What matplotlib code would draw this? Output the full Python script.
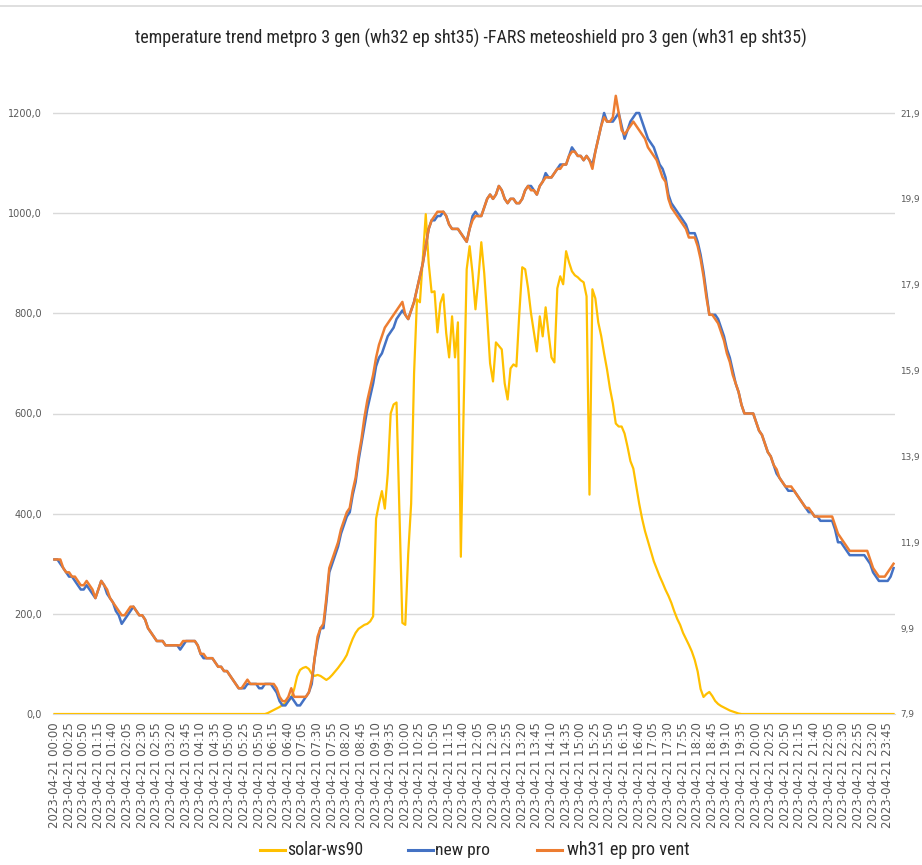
import matplotlib
matplotlib.use("Agg")
import matplotlib.pyplot as plt
from matplotlib.lines import Line2D
from matplotlib import font_manager

# ---------------- data ----------------
# 5-minute samples, 2023-04-21 00:00 .. 23:55
times = [f"2023-04-21 {h:02d}:{m:02d}" for h in range(24) for m in range(0, 60, 5)]

solar_ws90 = [
    0, 0, 0, 0, 0, 0, 0, 0, 0, 0, 0, 0,
    0, 0, 0, 0, 0, 0, 0, 0, 0, 0, 0, 0,
    0, 0, 0, 0, 0, 0, 0, 0, 0, 0, 0, 0,
    0, 0, 0, 0, 0, 0, 0, 0, 0, 0, 0, 0,
    0, 0, 0, 0, 0, 0, 0, 0, 0, 0, 0, 0,
    0, 0, 0, 0, 0, 0, 0, 0, 0, 0, 0, 0,
    0, 2, 5, 8, 11, 14, 18, 22, 26, 32, 50, 75,
    88, 92, 94, 90, 80, 76, 78, 76, 72, 68, 72, 78,
    85, 92, 100, 108, 118, 135, 150, 162, 170, 174, 178, 180,
    185, 195, 390, 420, 445, 410, 480, 600, 618, 622, 400, 182,
    178, 320, 420, 680, 828, 822, 910, 998, 900, 842, 844, 762,
    820, 838, 760, 712, 794, 712, 782, 314, 622, 888, 934, 880,
    808, 870, 942, 880, 794, 700, 664, 742, 735, 728, 660, 628,
    690, 698, 694, 800, 892, 888, 850, 800, 762, 724, 794, 754,
    812, 760, 712, 702, 850, 874, 858, 924, 902, 884, 876, 872,
    866, 862, 834, 438, 848, 830, 782, 755, 720, 688, 650, 620,
    580, 574, 574, 560, 534, 505, 490, 455, 420, 390, 365, 345,
    325, 305, 290, 275, 262, 248, 236, 222, 205, 190, 178, 162,
    150, 138, 125, 108, 85, 50, 34, 40, 44, 36, 26, 20,
    16, 13, 10, 7, 5, 3, 1, 0, 0, 0, 0, 0,
    0, 0, 0, 0, 0, 0, 0, 0, 0, 0, 0, 0,
    0, 0, 0, 0, 0, 0, 0, 0, 0, 0, 0, 0,
    0, 0, 0, 0, 0, 0, 0, 0, 0, 0, 0, 0,
    0, 0, 0, 0, 0, 0, 0, 0, 0, 0, 0, 0,
]

new_pro = [
    11.5, 11.5, 11.4, 11.3, 11.2, 11.1, 11.1, 11.0, 10.9, 10.8, 10.8, 10.9,
    10.8, 10.7, 10.6, 10.8, 11.0, 10.9, 10.7, 10.6, 10.5, 10.3, 10.2, 10.0,
    10.1, 10.2, 10.3, 10.4, 10.3, 10.2, 10.2, 10.1, 9.9, 9.8, 9.7, 9.6,
    9.6, 9.6, 9.5, 9.5, 9.5, 9.5, 9.5, 9.4, 9.5, 9.6, 9.6, 9.6,
    9.6, 9.5, 9.3, 9.2, 9.2, 9.2, 9.2, 9.1, 9.0, 9.0, 8.9, 8.9,
    8.8, 8.7, 8.6, 8.5, 8.5, 8.5, 8.6, 8.6, 8.6, 8.6, 8.5, 8.5,
    8.6, 8.6, 8.6, 8.5, 8.4, 8.2, 8.1, 8.1, 8.2, 8.3, 8.2, 8.1,
    8.1, 8.2, 8.3, 8.4, 8.6, 9.2, 9.6, 9.9, 9.9, 10.5, 11.2, 11.4,
    11.6, 11.8, 12.1, 12.3, 12.5, 12.6, 13.0, 13.3, 13.8, 14.2, 14.6, 15.0,
    15.3, 15.6, 16.0, 16.2, 16.3, 16.5, 16.7, 16.8, 16.9, 17.1, 17.2, 17.3,
    17.2, 17.1, 17.3, 17.5, 17.8, 18.1, 18.4, 18.8, 19.2, 19.4, 19.4, 19.5,
    19.5, 19.6, 19.5, 19.3, 19.2, 19.2, 19.2, 19.1, 19.0, 18.9, 19.2, 19.5,
    19.6, 19.5, 19.5, 19.7, 19.9, 20.0, 19.9, 20.0, 20.2, 20.1, 19.9, 19.8,
    19.9, 19.9, 19.8, 19.8, 19.9, 20.1, 20.2, 20.2, 20.1, 20.0, 20.2, 20.3,
    20.5, 20.4, 20.4, 20.5, 20.6, 20.7, 20.7, 20.7, 20.9, 21.1, 21.0, 20.9,
    20.9, 20.8, 20.9, 20.8, 20.7, 21.0, 21.3, 21.6, 21.9, 21.7, 21.7, 21.7,
    21.8, 21.9, 21.6, 21.3, 21.5, 21.7, 21.8, 21.9, 21.9, 21.7, 21.5, 21.3,
    21.2, 21.1, 20.9, 20.7, 20.6, 20.4, 20.0, 19.8, 19.7, 19.6, 19.5, 19.4,
    19.3, 19.1, 19.1, 19.1, 18.9, 18.6, 18.2, 17.7, 17.2, 17.2, 17.2, 17.1,
    16.9, 16.7, 16.4, 16.2, 15.9, 15.6, 15.4, 15.1, 14.9, 14.9, 14.9, 14.9,
    14.7, 14.5, 14.4, 14.2, 14.0, 13.9, 13.7, 13.5, 13.4, 13.3, 13.2, 13.1,
    13.1, 13.1, 13.0, 12.9, 12.8, 12.7, 12.6, 12.6, 12.5, 12.5, 12.4, 12.4,
    12.4, 12.4, 12.4, 12.2, 11.9, 11.9, 11.8, 11.7, 11.6, 11.6, 11.6, 11.6,
    11.6, 11.6, 11.5, 11.4, 11.2, 11.1, 11.0, 11.0, 11.0, 11.0, 11.1, 11.3,
]

wh31_ep_pro_vent = [
    11.5, 11.5, 11.5, 11.3, 11.2, 11.2, 11.1, 11.1, 11.0, 10.9, 10.9, 11.0,
    10.9, 10.8, 10.6, 10.8, 11.0, 10.9, 10.8, 10.6, 10.5, 10.4, 10.3, 10.2,
    10.2, 10.3, 10.4, 10.4, 10.3, 10.2, 10.2, 10.1, 9.9, 9.8, 9.7, 9.6,
    9.6, 9.6, 9.5, 9.5, 9.5, 9.5, 9.5, 9.5, 9.6, 9.6, 9.6, 9.6,
    9.6, 9.5, 9.3, 9.3, 9.2, 9.2, 9.2, 9.1, 9.0, 9.0, 8.9, 8.9,
    8.8, 8.7, 8.6, 8.5, 8.5, 8.6, 8.7, 8.6, 8.6, 8.6, 8.6, 8.6,
    8.6, 8.6, 8.6, 8.6, 8.5, 8.3, 8.2, 8.2, 8.3, 8.5, 8.3, 8.3,
    8.3, 8.3, 8.3, 8.4, 8.7, 9.2, 9.7, 9.9, 10.0, 10.6, 11.3, 11.5,
    11.7, 11.9, 12.2, 12.4, 12.6, 12.7, 13.1, 13.4, 13.9, 14.3, 14.8, 15.2,
    15.5, 15.8, 16.2, 16.5, 16.7, 16.9, 17.0, 17.1, 17.2, 17.3, 17.4, 17.5,
    17.2, 17.1, 17.3, 17.5, 17.8, 18.1, 18.4, 18.8, 19.2, 19.4, 19.5, 19.6,
    19.6, 19.6, 19.5, 19.3, 19.2, 19.2, 19.2, 19.1, 19.0, 18.9, 19.2, 19.4,
    19.5, 19.5, 19.5, 19.7, 19.9, 20.0, 19.9, 20.0, 20.2, 20.1, 19.9, 19.8,
    19.9, 19.9, 19.8, 19.8, 19.9, 20.1, 20.2, 20.1, 20.1, 20.0, 20.2, 20.3,
    20.4, 20.4, 20.4, 20.5, 20.6, 20.6, 20.7, 20.7, 20.9, 21.0, 21.0, 20.9,
    20.9, 20.8, 20.9, 20.8, 20.6, 21.0, 21.3, 21.6, 21.8, 21.7, 21.7, 21.8,
    22.3, 21.9, 21.5, 21.4, 21.5, 21.6, 21.7, 21.6, 21.5, 21.4, 21.3, 21.1,
    21.0, 20.9, 20.8, 20.6, 20.4, 20.3, 19.9, 19.7, 19.6, 19.5, 19.4, 19.3,
    19.2, 19.0, 19.0, 19.0, 18.8, 18.5, 18.1, 17.6, 17.2, 17.2, 17.1, 17.0,
    16.8, 16.6, 16.3, 16.1, 15.8, 15.6, 15.4, 15.1, 14.9, 14.9, 14.9, 14.9,
    14.7, 14.5, 14.4, 14.2, 14.0, 13.9, 13.7, 13.6, 13.4, 13.3, 13.2, 13.2,
    13.2, 13.1, 13.0, 12.9, 12.8, 12.7, 12.7, 12.6, 12.5, 12.5, 12.5, 12.5,
    12.5, 12.5, 12.5, 12.3, 12.1, 12.0, 11.9, 11.8, 11.7, 11.7, 11.7, 11.7,
    11.7, 11.7, 11.7, 11.5, 11.3, 11.2, 11.1, 11.1, 11.1, 11.2, 11.3, 11.4,
]

left_ticks = [0, 200, 400, 600, 800, 1000, 1200]
right_ticks = [7.9, 9.9, 11.9, 13.9, 15.9, 17.9, 19.9, 21.9]
series_names = ["solar-ws90", "new pro", "wh31 ep pro vent"]
title_text = "temperature trend metpro 3 gen (wh32 ep sht35) -FARS meteoshield pro 3 gen (wh31 ep sht35)"

# ---------------- style ----------------
C_SOLAR = "#FFC000"
C_BLUE = "#4472C4"
C_ORANGE = "#ED7D31"
GRID = "#D9D9D9"
TICK = "#595959"

# pick a narrow font if one is installed
_fonts = font_manager.fontManager.ttflist
_names = {f.name for f in _fonts}
FAM, STRETCH = "DejaVu Sans", "normal"
for cand in ["Liberation Sans Narrow", "Roboto Condensed", "Open Sans Condensed"]:
    if cand in _names:
        FAM = cand
        break
else:
    if any(f.name == "DejaVu Sans" and str(f.stretch) in ("condensed", "semi-condensed", "400", "300")
           and "Condensed" in f.fname for f in _fonts):
        STRETCH = "condensed"

W, H = 922, 865
fig = plt.figure(figsize=(W / 100, H / 100), dpi=100)
fig.patch.set_facecolor("white")
renderer = fig.canvas.get_renderer()


def fitted_text(x, y, s, target_w, size0, **kw):
    t = fig.text(x, y, s, fontsize=size0, family=[FAM, "DejaVu Sans"], stretch=STRETCH, **kw)
    w = t.get_window_extent(renderer).width
    t.set_fontsize(size0 * target_w / w)
    return t


x0, x1 = 53, 895
y_zero, y_top = 714, 80
ax = fig.add_axes([x0 / W, (H - y_zero) / H, (x1 - x0) / W, (y_zero - y_top) / H])
ymax = 1200 * (y_zero - y_top) / (y_zero - 113)

n = len(times)
xs = list(range(n))
ax.plot(xs, solar_ws90, color=C_SOLAR, lw=1.6, zorder=3)
ax.set_xlim(-0.5, n - 0.5)
ax.set_ylim(0, ymax)
ax.set_yticks(left_ticks)
ax.set_yticklabels([f"{v:.1f}".replace(".", ",") for v in left_ticks])
ax.yaxis.grid(True, color=GRID, lw=1.0)
ax.set_axisbelow(True)
for s in ["top", "right", "left"]:
    ax.spines[s].set_visible(False)
ax.spines["bottom"].set_color(GRID)
ax.tick_params(axis="y", length=0, pad=8, labelsize=7, labelcolor=TICK)
ax.set_xticks(xs[::5])
ax.set_xticklabels(times[::5], rotation=90, fontsize=8.0, color=TICK)
ax.tick_params(axis="x", length=0, pad=6)
# scale the rotated tick labels to the reference length (~106 px)
fig.canvas.draw()
_lab0 = ax.get_xticklabels()[0]
_h = _lab0.get_window_extent(renderer).height
if _h > 0:
    ax.tick_params(axis="x", labelsize=8.0 * 106 / _h)

ax2 = ax.twinx()
ax2.plot(xs, new_pro, color=C_BLUE, lw=1.8, zorder=3)
ax2.plot(xs, wh31_ep_pro_vent, color=C_ORANGE, lw=1.8, zorder=4)
ax2.set_ylim(right_ticks[0], right_ticks[0] + 14 * ymax / 1200)
ax2.set_yticks(right_ticks)
ax2.set_yticklabels([f"{v:.1f}".replace(".", ",") for v in right_ticks])
ax2.tick_params(axis="y", length=0, pad=4, labelsize=6.4, labelcolor=TICK)
for s in ax2.spines.values():
    s.set_visible(False)

# title
fitted_text(471 / W, 1 - 38 / H, title_text, 677, 14, ha="center", va="center", color="#262626")

# legend (manual layout, following the reference positions)
leg_y = 1 - 850 / H
leg_items = [(C_SOLAR, series_names[0], 260, 287, 76),
             (C_BLUE, series_names[1], 408, 435, 55),
             (C_ORANGE, series_names[2], 537, 567, 123)]
for col, name, lx, tx, tw in leg_items:
    fig.add_artist(Line2D([lx / W, (lx + 25) / W], [leg_y, leg_y], color=col, lw=2.2,
                          transform=fig.transFigure))
    fitted_text(tx / W, leg_y, name, tw, 12, ha="left", va="center", color="#262626")

fig.add_artist(Line2D([0, 1], [1 - 6 / H, 1 - 6 / H], color=GRID, lw=1.2,
                      transform=fig.transFigure))

fig.savefig("out.png", dpi=100)
